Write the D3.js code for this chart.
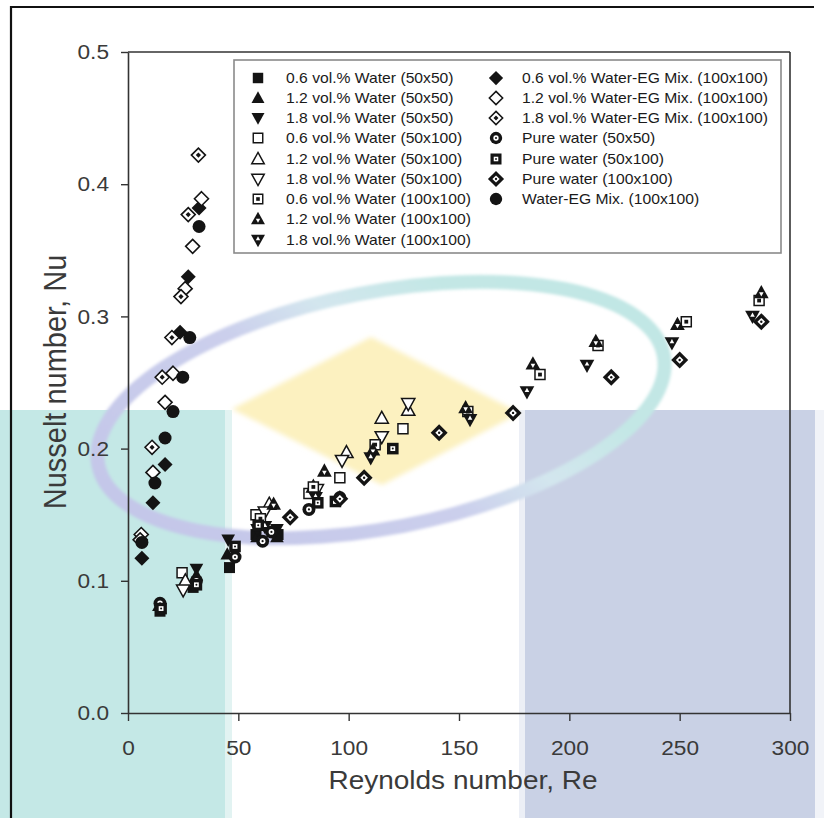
<!DOCTYPE html>
<html><head><meta charset="utf-8">
<script src="https://cdn.jsdelivr.net/npm/d3@7"></script>
<style>html,body{margin:0;padding:0;background:#fff;} svg{display:block;}</style>
</head><body>
<svg id="chart" width="824" height="818"></svg>
<script>
// ---------------- DATA ----------------
const xTicks = [0, 50, 100, 150, 200, 250, 300];
const yTicks = [0.0, 0.1, 0.2, 0.3, 0.4, 0.5];
const xTitle = "Reynolds number, Re";
const yTitle = "Nusselt number, Nu";

const seriesNames = [
  "0.6 vol.% Water (50x50)", "1.2 vol.% Water (50x50)", "1.8 vol.% Water (50x50)",
  "0.6 vol.% Water (50x100)", "1.2 vol.% Water (50x100)", "1.8 vol.% Water (50x100)",
  "0.6 vol.% Water (100x100)", "1.2 vol.% Water (100x100)", "1.8 vol.% Water (100x100)",
  "0.6 vol.% Water-EG Mix. (100x100)", "1.2 vol.% Water-EG Mix. (100x100)", "1.8 vol.% Water-EG Mix. (100x100)",
  "Pure water (50x50)", "Pure water (50x100)", "Pure water (100x100)", "Water-EG Mix. (100x100)"
];
// [Re, Nu] pairs
const w06_50x50  = [[14.5,0.077],[29.5,0.095],[46,0.110],[58,0.135],[68,0.135]];
const w12_50x50  = [[14,0.081],[31,0.104],[45,0.120],[58.5,0.133],[67.5,0.133]];
const w18_50x50  = [[31,0.109],[45.4,0.131],[58.5,0.139],[67.5,0.139]];
const w06_50x100 = [[24.5,0.106],[58,0.150],[82,0.166],[96,0.178],[124.6,0.215]];
const w12_50x100 = [[26,0.100],[64,0.158],[84,0.171],[99,0.197],[115,0.223],[127,0.229]];
const w18_50x100 = [[25,0.093],[62,0.152],[85.6,0.169],[97,0.191],[115,0.209],[127,0.234]];
const w06_100x100 = [[60,0.147],[84,0.171],[112,0.203],[154,0.228],[186.7,0.256],[213,0.278],[253,0.296],[286,0.312]];
const w12_100x100 = [[66,0.158],[89,0.183],[111,0.199],[153,0.231],[183.5,0.264],[212,0.281],[249,0.294],[287,0.318]];
const w18_100x100 = [[62,0.141],[85,0.163],[110,0.193],[155,0.222],[180.8,0.243],[208,0.263],[246.5,0.280],[283,0.300]];
const eg06_100x100 = [[6.3,0.117],[11.3,0.159],[16.8,0.188],[23.6,0.288],[27.3,0.330],[32.2,0.382]];
const eg12_100x100 = [[6,0.135],[11.3,0.182],[16.8,0.235],[20.4,0.257],[25.9,0.321],[29.3,0.353],[33.3,0.389]];
const eg18_100x100 = [[5.5,0.131],[10.9,0.201],[15.5,0.254],[19.9,0.284],[24,0.315],[27.3,0.377],[31.9,0.422]];
const pure_50x50   = [[14.5,0.083],[31,0.100],[48.5,0.118],[61,0.130],[65,0.137],[82,0.154],[96,0.163]];
const pure_50x100  = [[15,0.079],[31,0.097],[48.5,0.126],[59,0.142],[86,0.159],[94,0.160],[120,0.200]];
const pure_100x100 = [[73.5,0.148],[96,0.162],[107,0.178],[141,0.212],[174.5,0.227],[219,0.254],[250,0.267],[287,0.296]];
const egMix_100x100 = [[6.3,0.129],[12.2,0.174],[16.8,0.208],[20.4,0.228],[24.8,0.254],[28,0.284],[32.2,0.368]];

const seriesData = [w06_50x50, w12_50x50, w18_50x50, w06_50x100, w12_50x100, w18_50x100,
  w06_100x100, w12_100x100, w18_100x100, eg06_100x100, eg12_100x100, eg18_100x100,
  pure_50x50, pure_50x100, pure_100x100, egMix_100x100];
const seriesMarkers = ["sqFill","triUFill","triDFill","sqOpen","triUOpen","triDOpen",
  "sqDot","triUIn","triDIn","diaFill","diaOpen","diaDot","ringC","sqRing","diaRing","circFill"];

// ---------------- DRAWING ----------------
const svg = d3.select("#chart");
const x = d3.scaleLinear().domain([0, 300]).range([128, 790]);
const y = d3.scaleLinear().domain([0, 0.5]).range([713, 52]);
const K = "#141414";
const FONT = "'Liberation Sans', Arial, sans-serif";

const defs = svg.append("defs");
const blur1 = defs.append("filter").attr("id","blur1").attr("x","-10%").attr("y","-10%").attr("width","120%").attr("height","120%");
blur1.append("feGaussianBlur").attr("stdDeviation", 1.5);
const blur2 = defs.append("filter").attr("id","blur2").attr("x","-10%").attr("y","-10%").attr("width","120%").attr("height","120%");
blur2.append("feGaussianBlur").attr("stdDeviation", 2.5);
const grad = defs.append("linearGradient").attr("id","ringGrad")
  .attr("gradientUnits","userSpaceOnUse").attr("x1",175).attr("y1",607).attr("x2",625).attr("y2",207);
grad.append("stop").attr("offset",0).attr("stop-color","#c2c4e8");
grad.append("stop").attr("offset",0.42).attr("stop-color","#cbcfec");
grad.append("stop").attr("offset",0.55).attr("stop-color","#d3e6ee");
grad.append("stop").attr("offset",0.7).attr("stop-color","#c3e7e5");
grad.append("stop").attr("offset",1).attr("stop-color","#bfe6e4");

// decorative background shapes
const bg = svg.append("g");
bg.append("rect").attr("x",0).attr("y",410).attr("width",225).attr("height",408).attr("fill","#c4e8e6");
bg.append("rect").attr("x",225).attr("y",410).attr("width",7).attr("height",408).attr("fill","#e2f3f2");
bg.append("rect").attr("x",519).attr("y",410).attr("width",6).attr("height",408).attr("fill","#eceff6");
bg.append("rect").attr("x",525).attr("y",410).attr("width",290).attr("height",408).attr("fill","#c9d1e5");
bg.append("rect").attr("x",815).attr("y",410).attr("width",9).attr("height",408).attr("fill","#f1f3f8");
bg.append("path").attr("d","M232,409L371,337L520,413L382,485Z").attr("fill","#fcf1c0").attr("filter","url(#blur2)");
bg.append("ellipse").attr("cx",381).attr("cy",410).attr("rx",288).attr("ry",118)
  .attr("transform","rotate(-11,381,410)").attr("fill","none")
  .attr("stroke","url(#ringGrad)").attr("stroke-width",14).attr("filter","url(#blur1)");

// outer frame
svg.append("path").attr("d","M11,818V7H814").attr("fill","none").attr("stroke","#111").attr("stroke-width",2.2);

// axes
const axisColor = "#333";
const gx = svg.append("g").attr("transform","translate(0,713)")
  .call(d3.axisBottom(x).tickValues(xTicks).tickSize(8).tickPadding(19).tickSizeOuter(0).tickFormat(d3.format("d")));
const gy = svg.append("g").attr("transform","translate(128,0)")
  .call(d3.axisLeft(y).tickValues(yTicks).tickSize(7).tickPadding(10).tickSizeOuter(0).tickFormat(d3.format(".1f")));
[gx, gy].forEach(g => {
  g.select(".domain").attr("stroke", axisColor).attr("stroke-width", 1.6);
  g.selectAll(".tick line").attr("stroke", axisColor).attr("stroke-width", 1.4);
  g.selectAll(".tick text").attr("fill", "#3a3a3a").attr("font-family", FONT).attr("font-size", 21);
});
gx.selectAll(".tick text").attr("transform","scale(1.08,1)");
gy.selectAll(".tick text").attr("x", -19/1.08).attr("transform","scale(1.08,1)");
// top and right box lines
svg.append("line").attr("x1",x(0)).attr("x2",x(300)).attr("y1",y(0.5)).attr("y2",y(0.5)).attr("stroke",axisColor).attr("stroke-width",1.6);
svg.append("line").attr("x1",x(300)).attr("x2",x(300)).attr("y1",y(0.5)).attr("y2",y(0)).attr("stroke",axisColor).attr("stroke-width",1.6);

// titles
svg.append("text").attr("transform","translate(463,789) scale(1.12,1)")
  .attr("text-anchor","middle").attr("font-family",FONT).attr("font-size",25).attr("fill","#3a3a3a").text(xTitle);
svg.append("text").attr("transform","translate(66,382) scale(1.1,1) rotate(-90)")
  .attr("text-anchor","middle").attr("font-family",FONT).attr("font-size",29).attr("fill","#3a3a3a").text(yTitle);

// marker shapes
const sq = s => `M${-s},${-s}H${s}V${s}H${-s}Z`;
const triU = s => `M0,${-s*1.1}L${s*1.05},${s*0.8}L${-s*1.05},${s*0.8}Z`;
const triD = s => `M0,${s*1.1}L${s*1.05},${-s*0.8}L${-s*1.05},${-s*0.8}Z`;
const dia = s => `M0,${-s}L${s},0L0,${s}L${-s},0Z`;
const circ = r => `M${r},0A${r},${r} 0 1,1 ${-r},0A${r},${r} 0 1,1 ${r},0Z`;
const W = "#fff";
const markerParts = {
  sqFill:  [{d:sq(5.5), fill:K}],
  triUFill:[{d:triU(6.5), fill:K}],
  triDFill:[{d:triD(6.5), fill:K}],
  sqOpen:  [{d:sq(5), fill:W, stroke:K, sw:1.5}],
  triUOpen:[{d:triU(6.3), fill:W, stroke:K, sw:1.5}],
  triDOpen:[{d:triD(6.3), fill:W, stroke:K, sw:1.5}],
  sqDot:   [{d:sq(5), fill:W, stroke:K, sw:1.5},{d:sq(1.9), fill:K}],
  triUIn:  [{d:triU(7), fill:K},{d:"M2.3,-0.3L0,3.9L-2.3,-0.3Z", fill:W}],
  triDIn:  [{d:triD(7), fill:K},{d:"M2.3,0.3L0,-3.9L-2.3,0.3Z", fill:W}],
  diaFill: [{d:dia(7.5), fill:K}],
  diaOpen: [{d:dia(7), fill:W, stroke:K, sw:1.6}],
  diaDot:  [{d:dia(7), fill:W, stroke:K, sw:1.6},{d:dia(2.6), fill:K}],
  ringC:   [{d:circ(6.5), fill:K},{d:circ(2.8), fill:W},{d:circ(1.1), fill:K}],
  sqRing:  [{d:sq(5.8), fill:K},{d:sq(2.4), fill:W},{d:circ(1), fill:K}],
  diaRing: [{d:dia(8.5), fill:K},{d:dia(3.8), fill:W},{d:circ(1.2), fill:K}],
  circFill:[{d:circ(6.5), fill:K}]
};
function drawMarker(g, type) {
  markerParts[type].forEach(p => {
    g.append("path").attr("d", p.d).attr("fill", p.fill)
      .attr("stroke", p.stroke || "none").attr("stroke-width", p.sw || 0);
  });
}

// data points
const pts = svg.append("g");
seriesData.forEach((data, i) => {
  const g = pts.append("g").attr("class","series");
  g.selectAll("g.pt").data(data).enter().append("g").attr("class","pt")
    .attr("transform", d => `translate(${x(d[0])},${y(d[1])})`)
    .each(function(){ drawMarker(d3.select(this), seriesMarkers[i]); });
});

// legend
const lg = svg.append("g");
lg.append("rect").attr("x",234).attr("y",60).attr("width",547).attr("height",193)
  .attr("fill","#fff").attr("stroke","#8a8a8a").attr("stroke-width",1.6);
const rowY = [78, 98, 118, 138, 159, 179, 199, 219, 240];
seriesNames.forEach((name, i) => {
  const col = i < 9 ? 0 : 1;
  const row = i < 9 ? i : i - 9;
  const mx = col === 0 ? 258 : 496;
  const tx = col === 0 ? 286 : 522;
  const cy = rowY[row];
  const mg = lg.append("g").attr("transform", `translate(${mx},${cy}) scale(0.95)`);
  drawMarker(mg, seriesMarkers[i]);
  lg.append("text").attr("transform", `translate(${tx},${cy + 5}) scale(1.12,1)`)
    .attr("font-family", FONT).attr("font-size", 14).attr("fill", "#1a1a1a").text(name);
});
</script>
</body></html>
